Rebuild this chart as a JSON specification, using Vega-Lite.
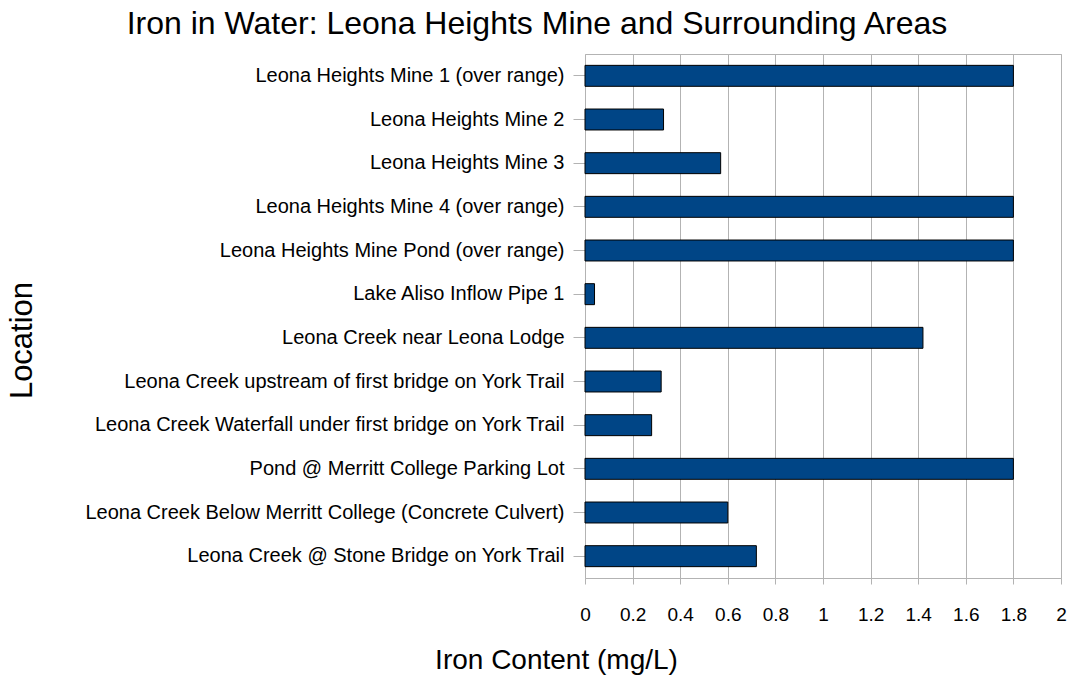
{
  "$schema": "https://vega.github.io/schema/vega-lite/v6.json",
  "width": 476,
  "height": 524,
  "autosize": "none",
  "padding": {"left": 585, "top": 54, "right": 9, "bottom": 98},
  "background": "white",
  "title": {
    "text": "Iron in Water: Leona Heights Mine and Surrounding Areas",
    "font": "Liberation Sans",
    "fontSize": 32,
    "fontWeight": "normal",
    "color": "black",
    "anchor": "middle",
    "dx": -286,
    "dy": 28,
    "baseline": "alphabetic",
    "offset": 16
  },
  "data": {
    "values": [
      {"location": "Leona Heights Mine 1 (over range)", "iron": 1.8},
      {"location": "Leona Heights Mine 2", "iron": 0.33},
      {"location": "Leona Heights Mine 3", "iron": 0.57},
      {"location": "Leona Heights Mine 4 (over range)", "iron": 1.8},
      {"location": "Leona Heights Mine Pond (over range)", "iron": 1.8},
      {"location": "Lake Aliso Inflow  Pipe 1", "iron": 0.04},
      {"location": "Leona Creek near Leona Lodge", "iron": 1.42},
      {"location": "Leona Creek upstream of first bridge on York Trail", "iron": 0.32},
      {"location": "Leona Creek Waterfall under first bridge on York Trail", "iron": 0.28},
      {"location": "Pond @ Merritt College Parking Lot", "iron": 1.8},
      {"location": "Leona Creek Below  Merritt College (Concrete Culvert)", "iron": 0.6},
      {"location": "Leona Creek @ Stone Bridge on York Trail", "iron": 0.72}
    ]
  },
  "mark": {"type": "bar", "color": "#004586", "stroke": "#000000", "strokeWidth": 1},
  "encoding": {
    "y": {
      "field": "location",
      "type": "nominal",
      "sort": null,
      "scale": {"paddingInner": 0.52, "paddingOuter": 0.26},
      "axis": {
        "title": "Location",
        "titleFont": "Liberation Sans",
        "titleFontSize": 31,
        "titleFontWeight": "normal",
        "titleColor": "black",
        "titleX": -563,
        "titleY": 286,
        "titleAngle": -90,
        "titleBaseline": "middle",
        "titleAlign": "center",
        "labelFont": "Liberation Sans",
        "labelFontSize": 20,
        "labelColor": "black",
        "labelPadding": 9,
        "labelLimit": 600,
        "tickSize": 12,
        "tickColor": "#b3b3b3",
        "domain": false,
        "grid": false
      }
    },
    "x": {
      "field": "iron",
      "type": "quantitative",
      "scale": {"domain": [0, 2], "nice": false},
      "axis": {
        "title": "Iron Content (mg/L)",
        "titleFont": "Liberation Sans",
        "titleFontSize": 28,
        "titleFontWeight": "normal",
        "titleColor": "black",
        "titleX": -29,
        "titleY": 82,
        "titleBaseline": "middle",
        "titleAlign": "center",
        "values": [0, 0.2, 0.4, 0.6, 0.8, 1, 1.2, 1.4, 1.6, 1.8, 2],
        "format": "~g",
        "labelFont": "Liberation Sans",
        "labelFontSize": 19,
        "labelColor": "black",
        "labelPadding": 21,
        "labelFlush": false,
        "tickSize": 6,
        "tickColor": "#b3b3b3",
        "domain": false,
        "grid": true,
        "gridColor": "#b3b3b3",
        "gridOpacity": 1
      }
    }
  },
  "config": {
    "view": {"stroke": "#b3b3b3", "strokeWidth": 1}
  }
}
